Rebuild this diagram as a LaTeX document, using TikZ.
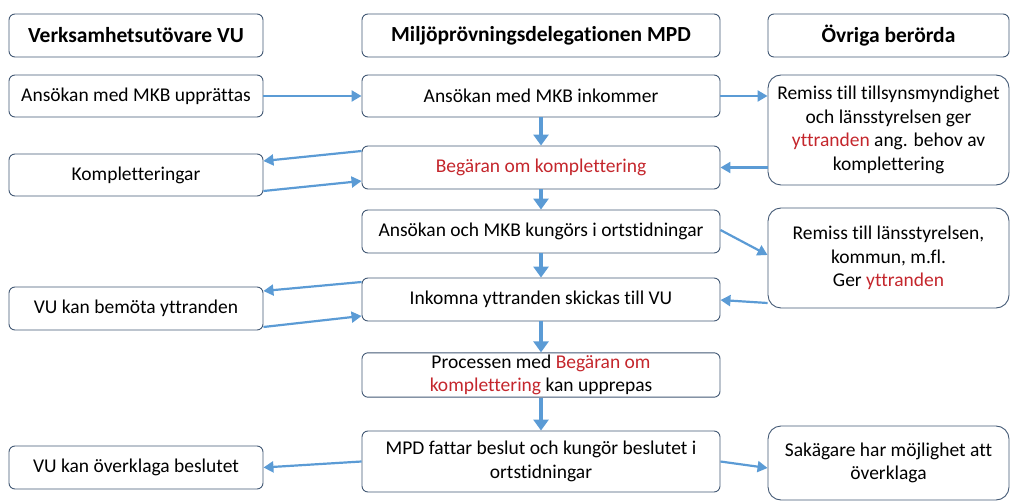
\documentclass[tikz,border=0pt]{standalone}
\usepackage{fontspec}
\setmainfont{Carlito}[Ligatures={NoCommon}]
\usetikzlibrary{arrows.meta}
\definecolor{edgeblue}{RGB}{66,88,116}
\definecolor{flowblue}{RGB}{91,155,213}
\definecolor{notered}{RGB}{196,38,44}

\begin{document}
\begin{tikzpicture}[x=1pt,y=-1pt,
    every node/.style={draw=edgeblue,line width=0.9pt,rounded corners=6pt,
      align=center,inner sep=2pt,font=\fontsize{19.5}{23.5}\selectfont},
    headbox/.style={minimum height=43pt,font=\fontsize{21.5}{24}\selectfont\bfseries},
    lbox/.style={minimum width=254pt},
    mbox/.style={minimum width=358pt},
    rbox/.style={minimum width=241pt,rounded corners=13pt},
    flow/.style={draw=flowblue,line width=2.2pt,-{Triangle[length=10pt,width=11pt]}},
    downflow/.style={draw=flowblue,line width=3.2pt,-{Triangle[length=11pt,width=15pt]}}]

    \useasboundingbox (0,0) rectangle (1011,502);

    %==================== Headers ====================
    \node[headbox,lbox] (hl) at (136,35.5)   {Verksamhetsutövare VU};
    \node[headbox,mbox] (hm) at (541,35.5)   {Miljöprövningsdelegationen MPD};
    \node[headbox,rbox,rounded corners=6pt] (hr) at (888.5,35.5) {Övriga berörda};

    %==================== Left column: VU ====================
    \node[lbox,minimum height=42pt] (l1) at (136,96)    {Ansökan med MKB upprättas};
    \node[lbox,minimum height=42pt] (l2) at (136,175)   {Kompletteringar};
    \node[lbox,minimum height=43pt] (l3) at (136,308.5) {VU kan bemöta yttranden};
    \node[lbox,minimum height=43pt] (l4) at (136,467.5) {VU kan överklaga beslutet};

    %==================== Middle column: MPD ====================
    \node[mbox,minimum height=42pt] (m1) at (541,96)    {Ansökan med MKB inkommer};
    \node[mbox,minimum height=43pt] (m2) at (541,167.5) {\textcolor{notered}{Begäran om komplettering}};
    \node[mbox,minimum height=43pt] (m3) at (541,231.5) {Ansökan och MKB kungörs i ortstidningar};
    \node[mbox,minimum height=43pt] (m4) at (541,299.5) {Inkomna yttranden skickas till VU};
    \node[mbox,minimum height=44pt] (m5) at (541,375)
      {Processen med \textcolor{notered}{Begäran om}\\\textcolor{notered}{komplettering} kan upprepas};
    \node[mbox,minimum height=61pt] (m6) at (541,461.5)
      {MPD fattar beslut och kungör beslutet i\\ortstidningar};

    %==================== Right column: others ====================
    \node[rbox,minimum height=110pt] (r1) at (888.5,130)
      {Remiss till tillsynsmyndighet\\och länsstyrelsen ger\\\textcolor{notered}{yttranden} ang. behov av\\komplettering};
    \node[rbox,minimum height=100pt] (r2) at (888.5,258)
      {Remiss till länsstyrelsen,\\kommun, m.fl.\\Ger \textcolor{notered}{yttranden}};
    \node[rbox,minimum height=74pt] (r3) at (888.5,463)
      {Sakägare har möjlighet att\\överklaga};

    % Main flow down the middle
    \foreach \a/\b in {m1/m2,m2/m3,m3/m4,m4/m5,m5/m6} {
      \draw[downflow] (\a.south) -- (\b.north);
    }

    % Between VU and MPD
    \draw[flow] (l1) -- (m1);
    \draw[flow] ([yshift=16.5pt]m2.west) -- ([yshift=14pt]l2.east);
    \draw[flow] ([yshift=-16pt]l2.east) -- ([yshift=-13.5pt]m2.west);
    \draw[flow] ([yshift=17.5pt]m4.west) -- ([yshift=17.5pt]l3.east);
    \draw[flow] ([yshift=-18.5pt]l3.east) -- ([yshift=-16.5pt]m4.west);
    \draw[flow] (m6.west) -- (l4.east);

    % Between MPD and the others
    \draw[flow] (m1) -- (m1 -| r1.west);
    \draw[flow] (r1.west |- m2) -- (m2);
    \draw[flow] ([yshift=1.5pt]m3.east) -- ([yshift=3pt]r2.west);
    \draw[flow] ([yshift=-45pt]r2.west) -- ([yshift=-0.5pt]m4.east);
    \draw[flow] (m6.east) -- ([yshift=-5pt]r3.west);

  \end{tikzpicture}
\end{document}
